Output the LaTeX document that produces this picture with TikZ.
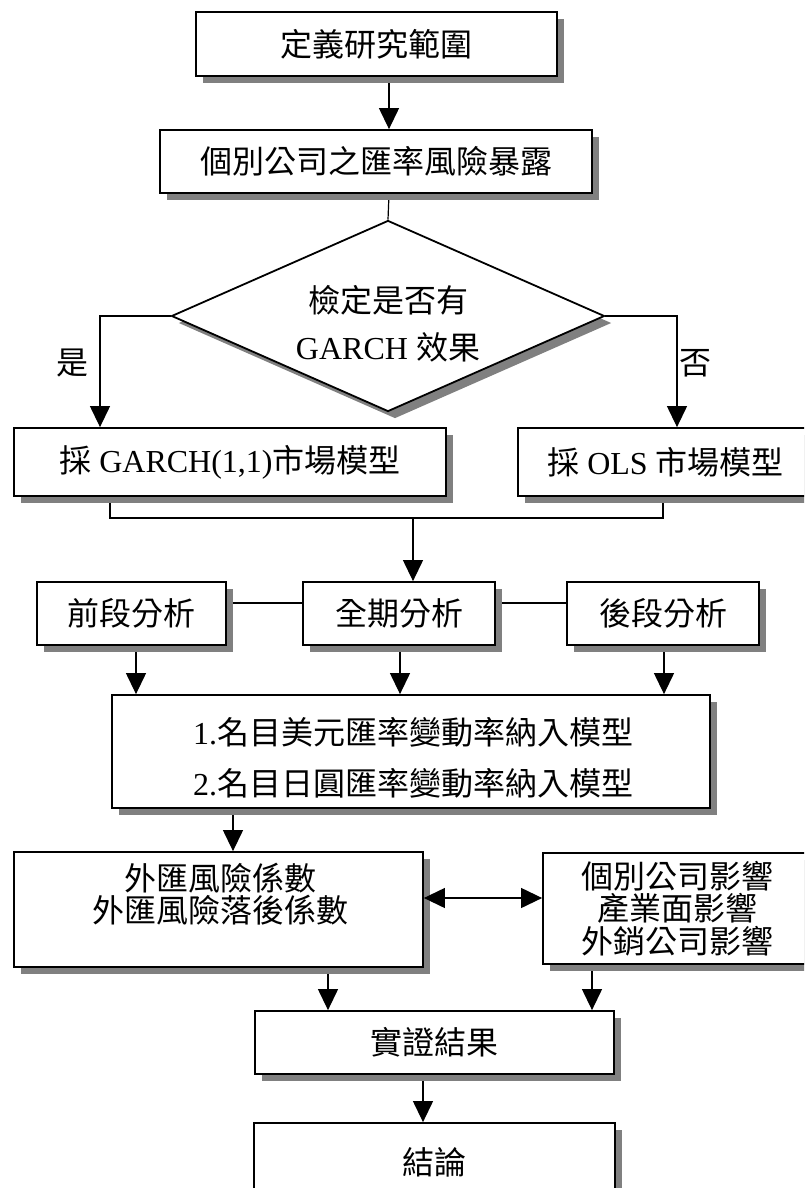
\documentclass[tikz,border=0pt]{standalone}
\usepackage{fontspec}
\setmainfont{Liberation Serif}
\newfontfamily\cjk{Noto Sans CJK TC}
\newcommand\zh[1]{{\cjk #1}}
\usetikzlibrary{shapes.geometric,shadows,arrows.meta,backgrounds}
\begin{document}
\begin{tikzpicture}[x=0.5pt,y=-0.5pt,
  sh/.style={drop shadow={shadow xshift=3.5pt,shadow yshift=-3.5pt,fill=black!50,opacity=1}},
  box/.style={draw, line width=0.9pt, fill=white, rectangle, inner sep=0pt, sh,
              font=\fontsize{16}{16.5}\selectfont, align=center},
  lbl/.style={inner sep=0pt, font=\fontsize{16}{16.5}\selectfont, align=center},
  conn/.style={line width=0.6pt},
  arr/.style={conn, -{Triangle[length=10.5pt,width=10pt]}},
]
\path[use as bounding box] (0,0) rectangle (804,1188);
\clip (0,0) rectangle (804,1188);

% nodes
\node[box, minimum width=180.5pt, minimum height=32pt] (b1) at (376.5,44) {\zh{定義研究範圍}};
\node[box, minimum width=216pt, minimum height=31.5pt] (b2) at (376,161.5) {\zh{個別公司之匯率風險暴露}};
\node[draw, line width=0.9pt, fill=white, diamond, minimum width=216.5pt, minimum height=95.5pt,
      inner sep=0pt, sh] (d) at (388,316) {};
\node[lbl, font=\fontsize{16}{23.5}\selectfont] (dt) at (388,323.5) {\zh{檢定是否有}\\GARCH \zh{效果}};
\node[lbl] (yes) at (72,363) {\zh{是}};
\node[lbl] (no) at (695,363) {\zh{否}};
\node[box, minimum width=216pt, minimum height=34pt] (g) at (230,462) {\zh{採} GARCH(1,1)\zh{市場模型}};
\node[box, minimum width=147.5pt, minimum height=34pt] (o) at (665.5,462) {\zh{採} OLS \zh{市場模型}};
\node[box, minimum width=94.5pt, minimum height=31.5pt] (p1) at (131.5,613.5) {\zh{前段分析}};
\node[box, minimum width=96pt, minimum height=31.5pt] (p2) at (399,613.5) {\zh{全期分析}};
\node[box, minimum width=96pt, minimum height=31.5pt] (p3) at (663,613.5) {\zh{後段分析}};
\node[box, minimum width=299pt, minimum height=56.5pt] (m) at (411,751.5) {};
\node[lbl, font=\fontsize{16}{25.5}\selectfont] (mt) at (413,757.5)
  {1.\zh{名目美元匯率變動率納入模型}\\2.\zh{名目日圓匯率變動率納入模型}};
\node[box, minimum width=204.5pt, minimum height=57.5pt] (f) at (218.5,909.5) {};
\node[lbl, font=\fontsize{16}{16.25}\selectfont] (ft) at (220,894) {\zh{外匯風險係數}\\\zh{外匯風險落後係數}};
\node[box, minimum width=134pt, minimum height=55.5pt, font=\fontsize{16}{16.25}\selectfont] (i) at (677,908.5)
  {\zh{個別公司影響}\\\zh{產業面影響}\\\zh{外銷公司影響}};
\node[box, minimum width=179.5pt, minimum height=31.5pt] (r) at (434.5,1042.5) {\zh{實證結果}};
\node[box, minimum width=180.5pt, minimum height=39pt] (c) at (434.5,1162) {\zh{結論}};

% helper coordinates
\coordinate (ax) at (389,0);
\coordinate (yx) at (100,0);
\coordinate (nx) at (677,0);
\coordinate (gx) at (110,0);
\coordinate (ox) at (663,0);
\coordinate (mg) at (413,518);
\coordinate (py) at (0,603);
\coordinate (a1) at (136,0);
\coordinate (a2) at (400,0);
\coordinate (a3) at (664,0);
\coordinate (a4) at (233,0);
\coordinate (dy) at (0,898);
\coordinate (a5) at (328,0);
\coordinate (a6) at (592,0);
\coordinate (a7) at (423,0);

\begin{pgfonlayer}{background}
\draw[arr] (b1.south -| ax) -- (b2.north -| ax);
\draw[conn] (b2.south -| ax) -- (d.north);
\draw[arr] (d.west) -- (d.west -| yx) -- (g.north -| yx);
\draw[arr] (d.east) -- (d.east -| nx) -- (o.north -| nx);
\draw[conn] (g.south -| gx) -- (gx |- mg) -- (ox |- mg) -- (o.south -| ox);
\draw[arr] (mg) -- (p2.north -| mg);
\draw[conn] (p1.east |- py) -- (p2.west |- py);
\draw[conn] (p2.east |- py) -- (p3.west |- py);
\draw[arr] (p1.south -| a1) -- (m.north -| a1);
\draw[arr] (p2.south -| a2) -- (m.north -| a2);
\draw[arr] (p3.south -| a3) -- (m.north -| a3);
\draw[arr] (m.south -| a4) -- (f.north -| a4);
\draw[arr] (f.south -| a5) -- (r.north -| a5);
\draw[arr] (i.south -| a6) -- (r.north -| a6);
\draw[arr] (r.south -| a7) -- (c.north -| a7);
\end{pgfonlayer}
\draw[conn, {Triangle[length=10.5pt,width=10pt]}-{Triangle[length=10.5pt,width=10pt]}] (f.east |- dy) -- (i.west |- dy);
\end{tikzpicture}
\end{document}
